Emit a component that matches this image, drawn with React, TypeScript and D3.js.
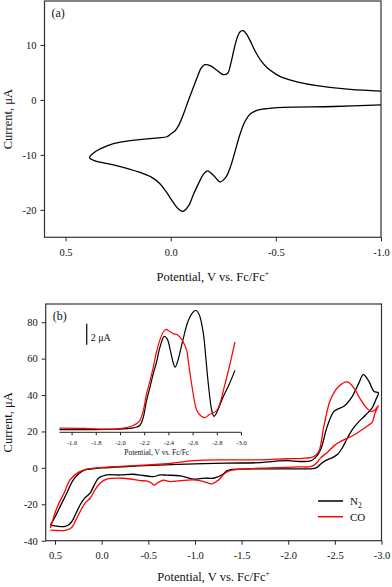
import { useEffect, useRef } from 'react';
import * as d3 from 'd3';

// ---- panel (a): single CV, forward branch then return branch ----
const aSweepV = [
  -1.0, -0.853, -0.695, -0.6, -0.536, -0.5, -0.46, -0.43, -0.4, -0.38, -0.36, -0.345, -0.33, -0.315, -0.3,
  -0.285, -0.272, -0.25, -0.22, -0.19, -0.162, -0.145, -0.125, -0.108, -0.085, -0.061, -0.04, -0.021, 0.0,
  0.018, 0.06, 0.113, 0.24, 0.3, 0.335, 0.365, 0.386,
  0.36, 0.272, 0.145, 0.09, 0.05, 0.02, -0.013, -0.038, -0.058, -0.085, -0.108, -0.135, -0.156, -0.175,
  -0.205, -0.235, -0.26, -0.283, -0.305, -0.33, -0.355, -0.378, -0.41, -0.441, -0.536, -0.774, -1.0,
];
const aSweepI = [
  1.6, 1.9, 2.6, 3.3, 4.0, 4.7, 5.8, 7.1, 9.0, 10.6, 12.0, 12.6, 12.4, 11.2, 9.0,
  6.5, 4.9, 4.6, 5.4, 6.2, 6.4, 5.8, 4.0, 2.3, 0.0, -2.55, -4.5, -5.6, -6.2,
  -6.7, -6.9, -7.1, -7.7, -8.3, -8.9, -9.6, -10.5,
  -11.1, -11.8, -13.2, -14.1, -15.3, -16.8, -18.7, -19.9, -20.3, -19.3, -17.2, -15.0, -13.5, -12.9,
  -13.8, -14.9, -14.2, -12.3, -9.5, -6.2, -3.8, -2.55, -1.9, -1.65, -1.35, -1.2, -0.9,
];

// ---- panel (b): N2 and CO, full loops ----
const n2V = [
  0.55, 0.5, 0.446, 0.38, 0.304, 0.24, 0.178, 0.1, 0.0, -0.3, -0.6, -1.0, -1.344, -1.702, -1.9, -2.0, -2.13,
  -2.24, -2.29, -2.347, -2.418, -2.49, -2.54, -2.597, -2.687, -2.758, -2.805, -2.865, -2.919, -2.966,
  -2.94, -2.9, -2.83, -2.75, -2.687, -2.63, -2.58, -2.53, -2.47, -2.4, -2.347, -2.3, -2.25, -2.0, -1.702,
  -1.45, -1.38, -1.344, -1.3, -1.2, -1.1, -0.985, -0.843, -0.7, -0.628, -0.556, -0.45, -0.33, -0.198,
  -0.055, 0.035, 0.08, 0.124, 0.18, 0.232, 0.28, 0.321, 0.37, 0.411, 0.48, 0.55,
];
const n2I = [
  -31.4, -27, -21.3, -14.5, -6.6, -3.0, -1.1, -0.5, 0.0, 0.8, 1.5, 2.2, 2.6, 2.9, 3.8, 4.0, 3.5,
  3.9, 5.5, 9.9, 22.8, 31, 32.5, 33.8, 39.3, 46.7, 51.2, 47.5, 42, 41.2,
  37.5, 33, 29, 25, 21, 16, 11, 7.5, 5.5, 4, 2.0, 0.0, -0.5, -0.5, -0.55,
  -0.7, -1.0, -1.5, -3.5, -5.7, -5.6, -6.2, -4.4, -4.0, -3.9, -4.8, -4.2, -3.5, -3.9,
  -3.9, -5.7, -9.5, -13.9, -16.5, -20.4, -25.5, -29.6, -31.8, -32.3, -32, -31.4,
];
const coV = [
  0.55, 0.52, 0.475, 0.4, 0.339, 0.25, 0.16, 0.05, -0.2, -0.5, -0.735, -0.985, -1.344, -1.702, -1.989,
  -2.15, -2.275, -2.328, -2.382, -2.454, -2.543, -2.633, -2.704, -2.776, -2.848, -2.89, -2.93, -2.966,
  -2.93, -2.9, -2.848, -2.78, -2.687, -2.6, -2.5, -2.42, -2.347, -2.3, -2.25, -2.1, -1.702, -1.415,
  -1.344, -1.3, -1.254, -1.183, -1.093, -0.985, -0.843, -0.735, -0.66, -0.6, -0.565, -0.53, -0.48,
  -0.413, -0.233, -0.055, 0.017, 0.07, 0.124, 0.18, 0.232, 0.28, 0.321, 0.38, 0.446, 0.5, 0.55,
];
const coI = [
  -33, -28, -21.3, -13.5, -6.6, -2.5, -0.7, 0.0, 0.8, 1.65, 2.4, 4.0, 4.4, 4.4, 5.0,
  5.2, 6.2, 9.0, 22.8, 37.5, 44.8, 47.2, 43.9, 37.5, 32.5, 31, 31.8, 34.2,
  30, 25, 23, 20.5, 17.5, 15.5, 12.5, 8.5, 5.5, 2.5, 0.8, 0.5, -0.2, -1.1,
  -2.2, -4.0, -6.6, -8.8, -7.5, -6.6, -7.0, -7.5, -6.8, -8.2, -9.5, -8.2, -7.2,
  -7.0, -5.7, -6.2, -8.4, -12, -16.7, -19.5, -24.1, -29, -32.7, -34.2, -34.5, -34.3, -34.2,
];

// ---- inset: reduction sweep, current relative to the inset baseline ----
const insetN2V = [
  -1.5, -1.7, -1.9, -2.0, -2.1, -2.138, -2.165, -2.193, -2.22, -2.248, -2.275, -2.3, -2.33, -2.366, -2.39,
  -2.42, -2.44, -2.455, -2.48, -2.52, -2.56, -2.6, -2.628, -2.655, -2.689, -2.71, -2.73, -2.758, -2.777,
  -2.8, -2.854, -2.9, -2.95,
];
const insetN2I = [
  0.26, 0.25, 0.28, 0.3, 0.4, 0.5, 0.67, 1.45, 3.05, 4.3, 5.6, 6.6, 8.1, 9.14, 8.9,
  7.6, 6.6, 6.2, 6.9, 8.8, 10.5, 11.4, 11.6, 11.2, 9.4, 7.0, 4.6, 2.1, 1.52,
  1.9, 3.4, 4.5, 5.9,
];
const insetCoV = [
  -1.5, -1.7, -1.9, -2.0, -2.1, -2.138, -2.165, -2.193, -2.22, -2.248, -2.275, -2.3, -2.33, -2.36, -2.38,
  -2.41, -2.44, -2.474, -2.5, -2.523, -2.551, -2.57, -2.592, -2.61, -2.634, -2.67, -2.702, -2.74, -2.8,
  -2.868, -2.95,
];
const insetCoI = [
  0.4, 0.38, 0.3, 0.35, 0.6, 0.83, 1.14, 2.1, 3.7, 4.9, 6.2, 7.6, 8.8, 9.6, 9.8,
  9.6, 9.4, 9.3, 9.0, 8.6, 7.8, 6.3, 4.6, 3.3, 2.1, 1.55, 1.4, 1.7, 2.1,
  4.6, 8.6,
];

const aXTicks = [0.5, 0.0, -0.5, -1.0];
const aYTicks = [-20, -10, 0, 10];
const bXTicks = [0.5, 0.0, -0.5, -1.0, -1.5, -2.0, -2.5, -3.0];
const bYTicks = [-40, -20, 0, 20, 40, 60, 80];
const insetXTicks = [-1.6, -1.8, -2.0, -2.2, -2.4, -2.6, -2.8, -3.0];
const seriesNames = ['N2', 'CO'];
const seriesColors = ['#000000', '#ff0000'];

const FONT = '"Liberation Serif", "Times New Roman", serif';

function App() {
  const ref = useRef<SVGSVGElement>(null);

  useEffect(() => {
    const svg = d3.select(ref.current);
    svg.selectAll('*').remove();

    const fmt1 = (d: number) => d.toFixed(1);
    const fmt0 = (d: number) => String(d);

    const styleAxis = (g: d3.Selection<SVGGElement, unknown, null, undefined>, size: number) => {
      g.select('.domain').remove();
      g.selectAll('.tick line').attr('stroke', '#222').attr('stroke-width', 1);
      g.selectAll('.tick text').attr('fill', '#111').style('font-family', FONT).style('font-size', `${size}px`);
    };

    // draws frame, axes and axis titles for one panel
    const drawPanel = (
      x: d3.ScaleLinear<number, number>,
      y: d3.ScaleLinear<number, number>,
      xTicks: number[],
      yTicks: number[],
      tag: string,
      xTitleY: number,
    ) => {
      const [x0, x1] = x.range();
      const [y0, y1] = y.range();
      const g = svg.append('g');

      g.append('g')
        .attr('transform', `translate(0,${y0})`)
        .call(d3.axisBottom(x).tickValues(xTicks).tickFormat(fmt1 as any).tickSize(4).tickPadding(7))
        .call((s) => styleAxis(s, 10.5));
      g.append('g')
        .attr('transform', `translate(${x0},0)`)
        .call(d3.axisLeft(y).tickValues(yTicks).tickFormat(fmt0 as any).tickSize(4).tickPadding(4))
        .call((s) => styleAxis(s, 10.5));

      g.append('rect')
        .attr('x', x0).attr('y', y1)
        .attr('width', x1 - x0).attr('height', y0 - y1)
        .attr('fill', 'none').attr('stroke', '#333').attr('stroke-width', 1.2);

      g.append('text')
        .attr('x', x0 + 7).attr('y', y1 + 16)
        .style('font-family', FONT).style('font-size', '12px').attr('fill', '#111')
        .text(tag);

      const xt = g.append('text')
        .attr('x', (x0 + x1) / 2).attr('y', xTitleY)
        .attr('text-anchor', 'middle')
        .style('font-family', FONT).style('font-size', '12.5px').attr('fill', '#111');
      xt.append('tspan').text('Potential, V vs. Fc/Fc');
      xt.append('tspan').attr('dy', -5).style('font-size', '7.5px').text('+');

      g.append('text')
        .attr('transform', `translate(12,${(y0 + y1) / 2}) rotate(-90)`)
        .attr('text-anchor', 'middle')
        .style('font-family', FONT).style('font-size', '12.5px').attr('fill', '#111')
        .text('Current, μA');
    };

    const pathFor = (
      x: d3.ScaleLinear<number, number>,
      y: d3.ScaleLinear<number, number>,
      vs: number[],
      is: number[],
    ) =>
      d3.line<number>()
        .x((v) => x(v))
        .y((_, i) => y(is[i]))
        .curve(d3.curveCatmullRom.alpha(0.5))(vs);

    // ---- panel (a) ----
    const xa = d3.scaleLinear().domain([0.6, -1.0]).range([44.5, 381]);
    const ya = d3.scaleLinear().domain([-25, 18]).range([237.3, 1]);
    drawPanel(xa, ya, aXTicks, aYTicks, '(a)', 281);
    svg.append('path')
      .attr('d', pathFor(xa, ya, aSweepV, aSweepI))
      .attr('fill', 'none').attr('stroke', '#000').attr('stroke-width', 1.3);

    // ---- panel (b) ----
    const xb = d3.scaleLinear().domain([0.6, -3.0]).range([45.7, 381.5]);
    const yb = d3.scaleLinear().domain([-40, 90]).range([540.7, 304]);
    drawPanel(xb, yb, bXTicks, bYTicks, '(b)', 581);

    const mains = [[n2V, n2I], [coV, coI]];
    mains.forEach(([vs, is], k) => {
      svg.append('path')
        .attr('d', pathFor(xb, yb, vs, is))
        .attr('fill', 'none').attr('stroke', seriesColors[k]).attr('stroke-width', 1.3);
    });

    // ---- inset ----
    const xi = d3.scaleLinear().domain([-1.5, -3.0]).range([59.5, 241]);
    const yi = d3.scaleLinear().domain([0, 12]).range([432.3, 306.3]);
    const ig = svg.append('g');
    ig.append('g')
      .attr('transform', `translate(0,${yi(0)})`)
      .call(d3.axisBottom(xi).tickValues(insetXTicks).tickFormat(fmt1 as any).tickSize(3).tickPadding(5.5))
      .call((s) => {
        s.select('.domain').attr('d', `M${xi.range()[0]},0H${xi.range()[1]}`).attr('stroke', '#222').attr('stroke-width', 1);
        s.selectAll('.tick line').attr('stroke', '#222');
        s.selectAll('.tick text').attr('fill', '#111').style('font-family', FONT).style('font-size', '6.5px');
      });
    const it = ig.append('text')
      .attr('x', 158).attr('y', 455)
      .attr('text-anchor', 'middle')
      .style('font-family', FONT).style('font-size', '7.5px').attr('fill', '#111');
    it.append('tspan').text('Potential, V vs. Fc/Fc');
    it.append('tspan').attr('dy', -3).style('font-size', '4.5px').text('+');

    const insets = [[insetN2V, insetN2I], [insetCoV, insetCoI]];
    insets.forEach(([vs, is], k) => {
      ig.append('path')
        .attr('d', pathFor(xi, yi, vs, is))
        .attr('fill', 'none').attr('stroke', seriesColors[k]).attr('stroke-width', 1.2);
    });

    // 2 µA scale bar
    const barV = -1.725;
    ig.append('line')
      .attr('x1', xi(barV)).attr('x2', xi(barV))
      .attr('y1', yi(8.35)).attr('y2', yi(10.35))
      .attr('stroke', '#000').attr('stroke-width', 1.2);
    ig.append('text')
      .attr('x', xi(barV) + 4).attr('y', yi(8.35) - 4)
      .style('font-family', FONT).style('font-size', '10px').attr('fill', '#111')
      .text('2 μA');

    // ---- legend ----
    const lg = svg.append('g').attr('transform', 'translate(318,501)');
    seriesNames.forEach((name, k) => {
      const row = lg.append('g').attr('transform', `translate(0,${k * 15.7})`);
      row.append('line').attr('x1', 0).attr('x2', 25).attr('stroke', seriesColors[k]).attr('stroke-width', 1.5);
      const t = row.append('text')
        .attr('x', 32).attr('y', 4)
        .style('font-family', FONT).style('font-size', '11px').attr('fill', '#111');
      if (name === 'N2') {
        t.append('tspan').text('N');
        t.append('tspan').attr('dy', 3).style('font-size', '7.5px').text('2');
      } else {
        t.text(name);
      }
    });
  }, []);

  return (
    <svg
      ref={ref}
      width={392}
      height={587}
      style={{ position: 'absolute', left: 0, top: 0, background: '#fff' }}
    />
  );
}

export default App;
